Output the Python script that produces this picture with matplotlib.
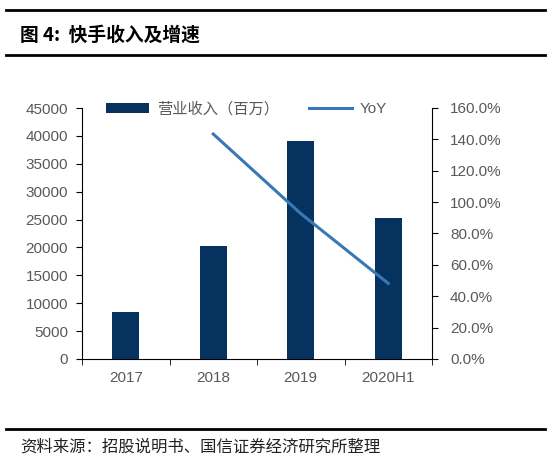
import matplotlib.pyplot as plt
from matplotlib.lines import Line2D
from matplotlib.ticker import FuncFormatter

plt.rcParams['font.family'] = ['Liberation Sans', 'Noto Sans CJK SC', 'DejaVu Sans']

# data
years = ['2017', '2018', '2019', '2020H1']
revenue = [8339, 20302, 39120, 25322]
yoy_years = ['2018', '2019', '2020H1']
yoy = [143.4, 92.7, 48.2]

bar_color = '#06325f'
line_color = '#3a78b5'
text_gray = '#595959'

fig = plt.figure(figsize=(5.51, 4.63), dpi=100)

# header / footer rules
for y in [1 - 10 / 463, 1 - 55 / 463, 1 - 429 / 463]:
    fig.add_artist(Line2D([6 / 551, 545 / 551], [y, y], color='black', lw=2))
fig.text(20 / 551, 1 - 35 / 463, '图 4:  快手收入及增速', fontsize=13.5, fontweight='bold',
         family=['Noto Sans CJK SC'], va='center', ha='left')
fig.text(20 / 551, 1 - 447 / 463, '资料来源：招股说明书、国信证券经济研究所整理', fontsize=11.8,
         family=['Noto Sans CJK SC'], va='center', ha='left', color='#222222')

ax = fig.add_axes([82 / 551, 1 - 359 / 463, 350 / 551, 251 / 463])
x = list(range(len(years)))
bars = ax.bar(x, revenue, width=0.31, color=bar_color, label='营业收入（百万）')
ax.set_xlim(-0.5, len(years) - 0.5)
ax.set_ylim(0, 45000)
ax.set_yticks(range(0, 45001, 5000))
ax.set_xticks(x)
ax.set_xticklabels(years)
ax.set_xticks([i - 0.5 for i in range(len(years) + 1)], minor=True)
ax.tick_params(axis='x', which='major', length=0, pad=9, labelsize=11, labelcolor=text_gray)
ax.tick_params(axis='x', which='minor', length=4, direction='out', color='black')
ax.tick_params(axis='y', length=4, direction='out', pad=6, labelsize=11, labelcolor=text_gray)
for s in ['top', 'right']:
    ax.spines[s].set_visible(False)

ax2 = ax.twinx()
xi = [years.index(y) for y in yoy_years]
line, = ax2.plot(xi, yoy, color=line_color, lw=2.2, label='YoY')
ax2.set_ylim(0, 160)
ax2.set_yticks(range(0, 161, 20))
ax2.yaxis.set_major_formatter(FuncFormatter(lambda v, p: f'{v:.1f}%'))
ax2.tick_params(axis='y', length=4, direction='out', pad=9, labelsize=11, labelcolor=text_gray)
for s in ['top', 'left', 'bottom']:
    ax2.spines[s].set_visible(False)

leg = ax.legend([bars, line], ['营业收入（百万）', 'YoY'], loc='upper center', ncol=2,
                bbox_to_anchor=(0.47, 1.085), frameon=False, fontsize=11,
                handlelength=2.8, columnspacing=2.0, handletextpad=0.5)
for t in leg.get_texts():
    t.set_color(text_gray)
leg.get_texts()[0].set_family(['Noto Sans CJK SC'])

fig.savefig('out.png', dpi=100)
